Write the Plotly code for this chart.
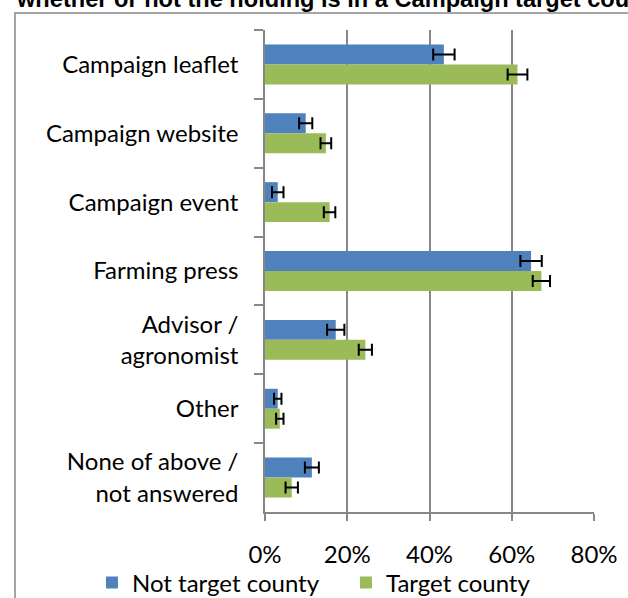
import plotly.graph_objects as go

categories = ["Campaign leaflet", "Campaign website", "Campaign event", "Farming press",
              "Advisor /<br>agronomist", "Other", "None of above /<br>not answered"]
not_target = [0.435, 0.099, 0.031, 0.647, 0.172, 0.031, 0.114]
not_target_err = [0.026, 0.016, 0.014, 0.026, 0.021, 0.009, 0.017]
target = [0.614, 0.148, 0.157, 0.672, 0.244, 0.036, 0.065]
target_err = [0.024, 0.013, 0.014, 0.021, 0.016, 0.009, 0.015]
x_ticks = [0, 0.2, 0.4, 0.6, 0.8]
x_tick_labels = ["0%", "20%", "40%", "60%", "80%"]
title_text = "whether or not the holding is in a Campaign target county"

FONT = "Lato"
GRID = "#878787"

fig = go.Figure()
fig.add_trace(go.Bar(
    y=categories, x=not_target, orientation="h", name="Not target county",
    marker=dict(color="#4F81BD", line=dict(width=0)),
    error_x=dict(type="data", array=not_target_err, color="black", thickness=2, width=6),
))
fig.add_trace(go.Bar(
    y=categories, x=target, orientation="h", name="Target county",
    marker=dict(color="#9BBB59", line=dict(width=0)),
    error_x=dict(type="data", array=target_err, color="black", thickness=2, width=6),
))

fig.update_layout(
    width=628, height=598,
    margin=dict(l=265, r=34, t=30, b=86, autoexpand=False),
    paper_bgcolor="white", plot_bgcolor="white",
    barmode="group", bargap=0.42, bargroupgap=0,
    font=dict(family=FONT, size=24, color="black"),
    showlegend=True,
    legend=dict(orientation="h", x=-0.526, xanchor="left", y=-0.147, yanchor="middle",
                font=dict(family=FONT, size=24), traceorder="normal",
                itemwidth=30, entrywidth=209, bgcolor="rgba(0,0,0,0)"),
    xaxis=dict(range=[0, 0.8], tickvals=x_ticks, ticktext=x_tick_labels,
               showgrid=True, gridcolor=GRID, gridwidth=1.5,
               showline=True, linecolor=GRID, linewidth=1.5,
               ticks="outside", ticklen=7, tickcolor=GRID, tickwidth=1.5,
               ticklabelstandoff=13, zeroline=False, fixedrange=True, automargin=False),
    yaxis=dict(type="category", autorange="reversed", tickson="boundaries",
               showgrid=False, showline=True, linecolor=GRID, linewidth=1.5,
               ticks="outside", ticklen=9, tickcolor=GRID, tickwidth=1.5,
               ticklabelstandoff=20, zeroline=False, automargin=False),
    shapes=[dict(type="rect", xref="paper", yref="paper",
                 x0=(15 - 265) / 329, x1=1.3, y0=-0.4, y1=(512 - 13) / 482,
                 line=dict(color="#888888", width=1.5), fillcolor="rgba(0,0,0,0)",
                 layer="below")],
    annotations=[dict(text="<b>" + title_text + "</b>", xref="paper", yref="paper",
                      x=(14 - 265) / 329, xanchor="left", y=(512 - 14) / 482, yanchor="bottom",
                      showarrow=False, align="left",
                      font=dict(family="Liberation Sans", size=23.6, color="black"))],
)

fig.write_html("out.html", config={"displayModeBar": False},
               post_script="document.body.style.margin='0';")
